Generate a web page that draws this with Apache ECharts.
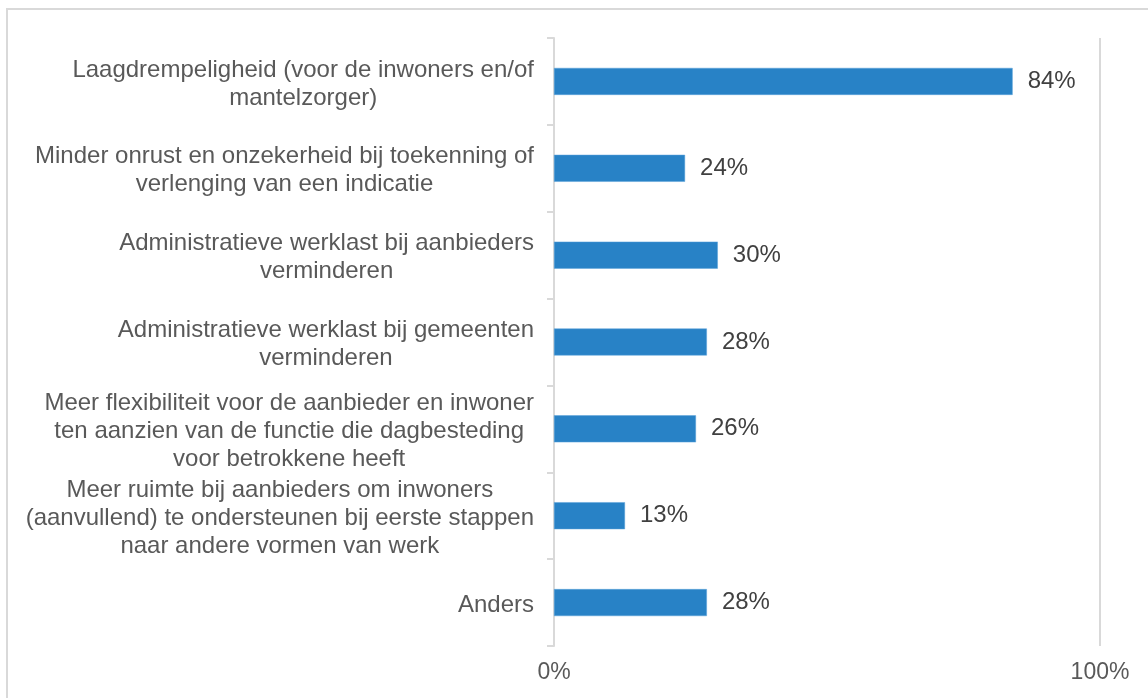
<!DOCTYPE html>
<html>
<head>
<meta charset="utf-8">
<script src="https://cdn.jsdelivr.net/npm/echarts@6/dist/echarts.min.js"></script>
<style>
html,body{margin:0;padding:0;background:#fff;}
#chart{width:1148px;height:698px;}
</style>
</head>
<body>
<div id="chart"></div>
<script>
const categories = [
  "Laagdrempeligheid (voor de inwoners en/of\nmantelzorger)",
  "Minder onrust en onzekerheid bij toekenning of\nverlenging van een indicatie",
  "Administratieve werklast bij aanbieders\nverminderen",
  "Administratieve werklast bij gemeenten\nverminderen",
  "Meer flexibiliteit voor de aanbieder en inwoner\nten aanzien van de functie die dagbesteding\nvoor betrokkene heeft",
  "Meer ruimte bij aanbieders om inwoners\n(aanvullend) te ondersteunen bij eerste stappen\nnaar andere vormen van werk",
  "Anders"
];
const values = [84, 24, 30, 28, 26, 13, 28];
const xTicks = [0, 100];

const FONT = '"Liberation Sans", Arial, sans-serif';
const chart = echarts.init(document.getElementById('chart'));
chart.setOption({
  backgroundColor: '#ffffff',
  animation: false,
  graphic: [{
    type: 'rect',
    shape: { x: 7, y: 9, width: 1160, height: 720 },
    style: { fill: 'none', stroke: '#d9d9d9', lineWidth: 2 },
    silent: true
  }],
  grid: { left: 554, right: 48, top: 38, bottom: 52, containLabel: false },
  xAxis: {
    type: 'value',
    min: xTicks[0],
    max: xTicks[xTicks.length - 1],
    interval: xTicks[1] - xTicks[0],
    axisLine: { show: false },
    axisTick: { show: false },
    splitLine: { show: true, lineStyle: { color: '#d9d9d9', width: 2 } },
    axisLabel: {
      formatter: '{value}%',
      color: '#595959',
      fontFamily: FONT,
      fontSize: 23,
      margin: 15
    }
  },
  yAxis: {
    type: 'category',
    inverse: true,
    data: categories,
    axisLine: { show: true, lineStyle: { color: '#d9d9d9', width: 2 } },
    axisTick: { show: true, length: 7, lineStyle: { color: '#d9d9d9', width: 2 } },
    splitLine: { show: false },
    axisLabel: {
      align: 'right',
      margin: 20,
      padding: [5, 0, 0, 0],
      color: '#595959',
      fontFamily: FONT,
      fontSize: 24,
      lineHeight: 28,
      formatter: function (v) {
        return v.split('\n').map(function (l) { return '{c|' + l + '}'; }).join('\n');
      },
      rich: {
        c: { align: 'center', fontFamily: FONT, fontSize: 24, lineHeight: 28, color: '#595959' }
      }
    }
  },
  series: [{
    type: 'bar',
    data: values,
    barWidth: 27,
    itemStyle: { color: '#2882c6', borderColor: '#5ba3db', borderWidth: 0.5 },
    label: {
      show: true,
      position: 'right',
      distance: 15,
      formatter: '{c}%',
      color: '#404040',
      fontFamily: FONT,
      fontSize: 24
    }
  }]
});
</script>
</body>
</html>
